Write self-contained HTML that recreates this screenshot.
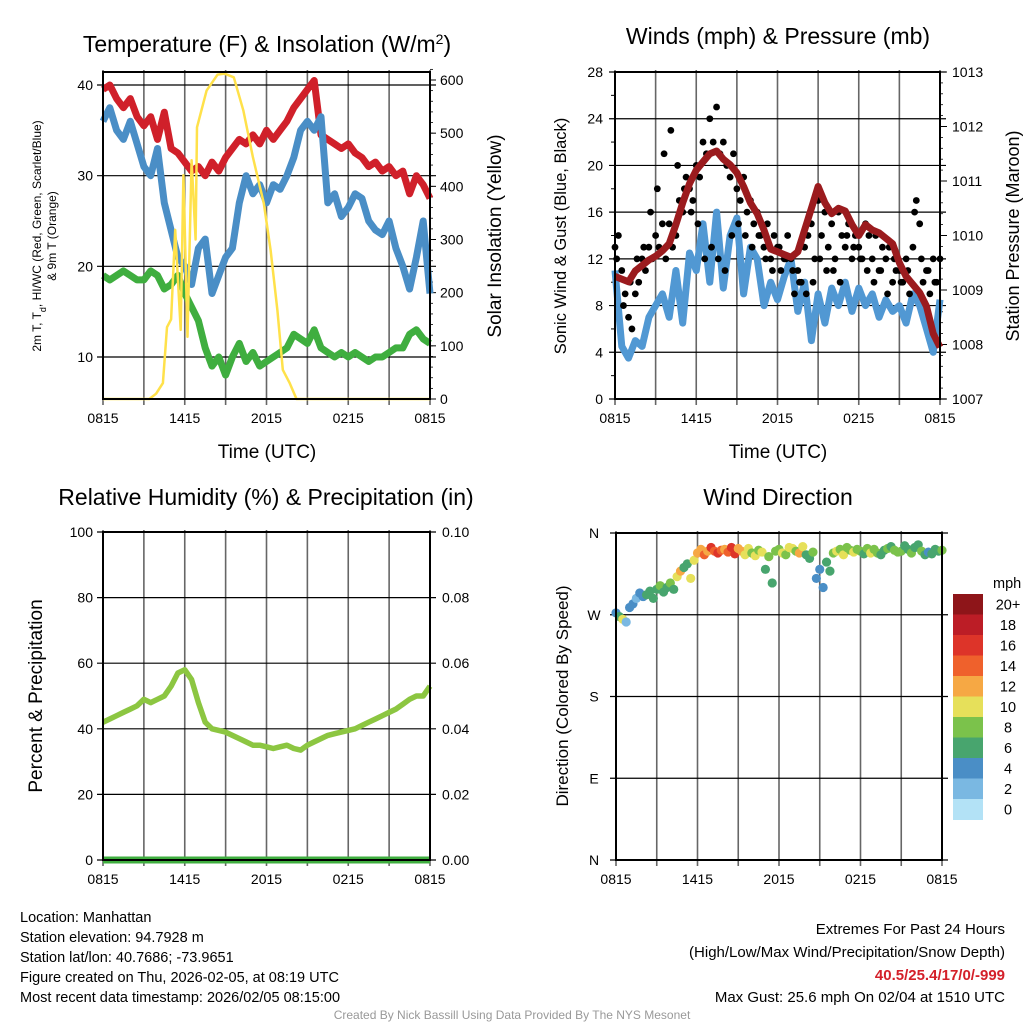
<!DOCTYPE html>
<html><head><meta charset="utf-8"><style>
html,body{margin:0;padding:0;background:#fff;}
svg{display:block;font-family:"Liberation Sans",Arial,sans-serif;}
</style></head><body>
<svg id="root" width="1024" height="1024" viewBox="0 0 1024 1024" xmlns="http://www.w3.org/2000/svg">
<text x="267" y="52" font-size="23" text-anchor="middle">Temperature (F) &amp; Insolation (W/m<tspan baseline-shift="super" font-size="14">2</tspan>)</text>
<text x="778" y="44" font-size="23" text-anchor="middle">Winds (mph) &amp; Pressure (mb)</text>
<text x="266" y="505" font-size="23" text-anchor="middle">Relative Humidity (%) &amp; Precipitation (in)</text>
<text x="778" y="505" font-size="23" text-anchor="middle">Wind Direction</text>
<text x="267" y="458" font-size="19" text-anchor="middle">Time (UTC)</text>
<text x="778" y="458" font-size="19" text-anchor="middle">Time (UTC)</text>
<text transform="translate(41,236) rotate(-90)" font-size="12" text-anchor="middle">2m T, T<tspan baseline-shift="sub" font-size="9">d</tspan>, HI/WC (Red, Green, Scarlet/Blue)</text>
<text transform="translate(56,236) rotate(-90)" font-size="12" text-anchor="middle">&amp; 9m T (Orange)</text>
<text transform="translate(501,236) rotate(-90)" font-size="19" text-anchor="middle">Solar Insolation (Yellow)</text>
<text transform="translate(566,236) rotate(-90)" font-size="16.5" text-anchor="middle">Sonic Wind &amp; Gust (Blue, Black)</text>
<text transform="translate(1019,236) rotate(-90)" font-size="18" text-anchor="middle">Station Pressure (Maroon)</text>
<text transform="translate(42,696) rotate(-90)" font-size="19" text-anchor="middle">Percent &amp; Precipitation</text>
<text transform="translate(568,696) rotate(-90)" font-size="17" text-anchor="middle">Direction (Colored By Speed)</text>
<g font-size="14.5">
<text x="20" y="922">Location: Manhattan</text>
<text x="20" y="942">Station elevation: 94.7928 m</text>
<text x="20" y="962">Station lat/lon: 40.7686; -73.9651</text>
<text x="20" y="982">Figure created on Thu, 2026-02-05, at 08:19 UTC</text>
<text x="20" y="1002">Most recent data timestamp: 2026/02/05 08:15:00</text>
</g>
<g font-size="15" text-anchor="end">
<text x="1005" y="934">Extremes For Past 24 Hours</text>
<text x="1005" y="957">(High/Low/Max Wind/Precipitation/Snow Depth)</text>
<text x="1005" y="980" fill="#d4202a" font-weight="bold">40.5/25.4/17/0/-999</text>
<text x="1005" y="1002">Max Gust: 25.6 mph On 02/04 at 1510 UTC</text>
</g>
<text x="512" y="1019" font-size="12" fill="#999" text-anchor="middle">Created By Nick Bassill Using Data Provided By The NYS Mesonet</text>
</svg>
<script>
const tempRed=[39.5,40,38.5,37.5,38.5,36.5,35.5,36.5,34,37,33,32.5,31.5,30.5,31,30,31.5,30.5,32,33,34,33.5,34.5,33.5,35,34,35,36,37.5,38.5,39.5,40.5,34.5,34,33.5,33,33.5,32.5,32,31,31.5,30.5,31,30,30.5,28,30,29,27.5];
const tempBlue=[36,37.5,35,34,36,33.5,31,30,33,27,24,21,20,18,22,23,17,19,21,22,27,30,28,29,27,29,28.5,30,32,35,36,35,36.5,27,28,25.5,26.5,28,27.5,25,24,23.5,25,22,20,17.5,21,25,17];
const tempGreen=[19,18.5,19,19.5,19,18.5,18.5,19.5,19,17.5,18,19,17,15.5,14,11,9,10,8,10,11.5,9.5,10.5,9,9.5,10,10.5,11,12.5,12,11.5,13,11,10.5,10,10.5,10,10.5,10,9.5,10,10,10.5,11,11,12.5,13,12,11.5];
const solarT=[0,3.4,3.9,4.4,4.7,5.0,5.3,5.7,5.9,6.2,6.5,6.8,6.9,7.6,8.4,8.9,9.6,10.3,11.0,11.8,12.3,12.8,13.2,13.7,14.2,24];
const solarV=[0,0,10,30,135,150,318,130,421,117,449,300,511,580,610,612,605,543,455,368,280,167,55,30,0,0];
const windV=[11,4.5,3.5,5,4.5,7,8,9,7,11,6.5,12.5,11,15,10,16,9.5,14,15.5,9,13,12,8,10,8.5,10.5,12,7.5,10,5,9,6.5,9.5,8,10,7.5,9.5,8,9,7,8.5,7.5,8,6.5,9,8,6,4,8.5];
const pressV=[1009.25,1009.2,1009.15,1009.35,1009.45,1009.55,1009.62,1009.72,1009.85,1010.2,1010.6,1010.95,1011.2,1011.35,1011.5,1011.55,1011.4,1011.3,1011.15,1010.9,1010.6,1010.4,1010.1,1009.75,1009.7,1009.65,1009.6,1009.7,1010.1,1010.5,1010.9,1010.6,1010.4,1010.5,1010.45,1010.2,1010.0,1010.2,1010.1,1010.05,1009.95,1009.85,1009.5,1009.25,1009.1,1008.95,1008.7,1008.2,1007.95];
const gustV=[13,14,11,9,7,6,9,10,12,11,13,12,14,13,15,12,15,13,14,17,16,19,18,17,20,19,22,21,24,22,25,21,22,20,19,21,18,17,19,16,17,15,16,14,13,15,12,14,13,11,12,14,12,9,11,10,13,14,15,12,17,14,16,13,15,12,16,14,13,15,12,14,13,12,15,14,12,14,11,13,12,13,10,11,11,10,12,9,13,17,15,10,11,9,12,10,12];
const gustV2=[12,8,10,12,13,16,18,21,23,20,18,16,15,12,13,12,11,14,15,14,13,14,12,11,13,12,11,10,9,10,12,11,11,10,14,13,12,11,10,11,9,12,10,11,16,12,11,10];
const rhV=[42,43,44,45,46,47,49,48,49,50,53,57,58,55,48,42,40,39.5,39,38,37,36,35,35,34.5,34,34.5,35,34,33.5,35,36,37,38,38.5,39,39.5,40,41,42,43,44,45,46,47.5,49,50,50,53];
const dirV=[272,268,265,262,278,282,288,294,290,292,296,288,298,302,295,300,305,298,312,318,322,326,310,330,338,342,336,340,344,340,338,341,342,339,344,337,343,340,336,343,338,335,341,339,320,334,305,340,342,338,336,344,343,340,338,345,336,332,339,310,320,300,328,318,338,340,342,336,344,341,339,342,340,337,343,338,342,338,336,341,343,345,341,339,340,346,342,338,344,347,340,336,339,337,342,340,341];
const dirS=[5,7,10,3,4,5,3,4,5,6,7,6,7,8,6,7,8,6,10,13,6,7,10,11,13,12,14,13,16,15,17,14,13,14,17,16,13,12,10,11,9,10,8,11,7,9,6,9,8,10,9,10,11,9,12,10,7,6,8,4,5,4,7,6,9,10,8,11,9,8,10,9,8,7,9,10,9,8,6,7,8,7,9,8,8,7,6,9,6,7,8,6,5,7,6,7,8];
const timeTicks=["0815","1415","2015","0215","0815"];
const tempTicks=[10,20,30,40];
const solarTicks=[0,100,200,300,400,500,600];
const windTicks=[0,4,8,12,16,20,24,28];
const pressTicks=[1007,1008,1009,1010,1011,1012,1013];
const rhTicks=[0,20,40,60,80,100];
const precipTicks=["0.00","0.02","0.04","0.06","0.08","0.10"];
const dirTicks=["N","E","S","W","N"];
const speedLabels=["0","2","4","6","8","10","12","14","16","18","20+"];
const speedColors=["#b3e2f6","#7ab8e2","#4a8ec6","#48a56e","#7bc24b","#e6e05a","#f6a844","#ef612c","#dd3429","#bc1d26","#8e1519"];

const NS="http://www.w3.org/2000/svg";
const root=document.getElementById('root');
function mk(tag,attrs,parent){const e=document.createElementNS(NS,tag);for(const k in attrs)e.setAttribute(k,attrs[k]);(parent||root).appendChild(e);return e;}
function lin(d0,d1,r0,r1){return v=>r0+(v-d0)/(d1-d0)*(r1-r0);}

function panel(name,x0,x1,y0,y1){
  const g=mk('g',{});
  
  
  const xs=lin(0,24,x0,x1);
  for(let h=0;h<=24;h+=3){const l=mk('line',{x1:xs(h),x2:xs(h),y1:y0-2,y2:y1+6,stroke:'#666','stroke-width':1.6},g);
    
    }
  timeTicks.forEach((lab,i)=>{const t=mk('text',{x:xs(i*6),y:y1+24,'font-size':14,'text-anchor':'middle'},g);t.textContent=lab;
    
    });
  return {g,xs};
}
function hgrid(g,x0,x1,y){const l=mk('line',{x1:x0-6,x2:x1+6,y1:y,y2:y,stroke:'#000','stroke-width':1.2},g);
  
  }
function label(g,x,y,txt,anchor,size){const t=mk('text',{x:x,y:y+5,'font-size':size||14,'text-anchor':anchor},g);t.textContent=txt;
  
  return t;}
function pathFrom(xsArr,ysArr){return xsArr.map((x,i)=>(i?'L':'M')+x.toFixed(1)+','+ysArr[i].toFixed(1)).join('');}
function frame(g,x0,x1,y0,y1){const r=mk('rect',{x:x0,y:y0,width:x1-x0,height:y1-y0,fill:'none',stroke:'#000','stroke-width':2},g);
  
  }

// Panel 1
{const X0=103,X1=430,Y0=72,Y1=399;const p=panel('temperature-panel',X0,X1,Y0,Y1);const g=p.g,xs=p.xs;
 const ty=lin(10,40,357,85);const sy=lin(0,600,399,80);
 tempTicks.forEach(v=>{hgrid(g,X0,X1,ty(v));label(g,X0-10,ty(v),String(v),'end');});
 solarTicks.forEach(v=>{label(g,X1+10,sy(v),String(v),'start');mk('line',{x1:X1,x2:X1+6,y1:sy(v),y2:sy(v),stroke:'#000'},g);});
 for(let v=0;v<=620;v+=20){mk('line',{x1:X1,x2:X1+3,y1:sy(v),y2:sy(v),stroke:'#000','stroke-width':0.8},g);}
 const tt=tempRed.map((_,i)=>xs(i*0.5));
 const s1=mk('path',{d:pathFrom(tt,tempGreen.map(ty)),fill:'none',stroke:'#3fae3f','stroke-width':7,'stroke-linejoin':'round'},g);
 
 
 const s2=mk('path',{d:pathFrom(tt,tempRed.map(ty)),fill:'none',stroke:'#d0202a','stroke-width':7,'stroke-linejoin':'round'},g);
 
 
 const s3=mk('path',{d:pathFrom(tt,tempBlue.map(ty)),fill:'none',stroke:'#4a8ec6','stroke-width':7,'stroke-linejoin':'round'},g);
 
 
 const s4=mk('path',{d:pathFrom(solarT.map(xs),solarV.map(sy)),fill:'none',stroke:'#ffe14a','stroke-width':2.5,'stroke-linejoin':'round'},g);
 
 
 frame(g,X0,X1,Y0,Y1);}

// Panel 2
{const X0=615,X1=940,Y0=72,Y1=399;const p=panel('wind-panel',X0,X1,Y0,Y1);const g=p.g,xs=p.xs;
 const wy=lin(0,28,399,72);const py=lin(1007,1013,399,72);
 windTicks.forEach(v=>{hgrid(g,X0,X1,wy(v));label(g,X0-12,wy(v),String(v),'end');});
 for(let v=2;v<28;v+=4){mk('line',{x1:X0-4,x2:X0,y1:wy(v),y2:wy(v),stroke:'#000'},g);}
 pressTicks.forEach(v=>{label(g,X1+12,py(v),String(v),'start');mk('line',{x1:X1,x2:X1+7,y1:py(v),y2:py(v),stroke:'#000'},g);});
 for(let v=1007;v<=1013.01;v+=0.2){mk('line',{x1:X1,x2:X1+3,y1:py(v),y2:py(v),stroke:'#000','stroke-width':0.8},g);}
 const ws=mk('path',{d:pathFrom(windV.map((_,i)=>xs(i*0.5)),windV.map(wy)),fill:'none',stroke:'#5198d3','stroke-width':7,'stroke-linejoin':'round'},g);
 
 
 gustV.forEach((v,i)=>{const c=mk('circle',{cx:xs(i*0.25),cy:wy(v),r:3.4,fill:'#000'},g);
   
   });
 gustV2.forEach((v,i)=>{const c=mk('circle',{cx:xs(0.125+i*0.5),cy:wy(v),r:3.4,fill:'#000'},g);
   
   });
 const pl=mk('path',{d:pathFrom(pressV.map((_,i)=>xs(i*0.5)),pressV.map(py)),fill:'none',stroke:'#9b1b1e','stroke-width':7,'stroke-linejoin':'round'},g);
 
 
 frame(g,X0,X1,Y0,Y1);}

// Panel 3
{const X0=103,X1=430,Y0=532,Y1=860;const p=panel('humidity-panel',X0,X1,Y0,Y1);const g=p.g,xs=p.xs;
 const ry=lin(0,100,860,532);
 rhTicks.forEach((v,i)=>{hgrid(g,X0,X1,ry(v));label(g,X0-10,ry(v),String(v),'end');label(g,X1+12,ry(v),precipTicks[i],'start');});
 const rl=mk('path',{d:pathFrom(rhV.map((_,i)=>xs(i*0.5)),rhV.map(ry)),fill:'none',stroke:'#8cc641','stroke-width':5.5,'stroke-linejoin':'round'},g);
 
 
 const pr=mk('line',{x1:X0,x2:X1,y1:ry(0),y2:ry(0),stroke:'#3fae3f','stroke-width':7},g);
 
 
 frame(g,X0,X1,Y0,Y1);}

// Panel 4
{const X0=616,X1=942,Y0=533,Y1=860;const p=panel('direction-panel',X0,X1,Y0,Y1);const g=p.g,xs=p.xs;
 const dy=lin(0,360,860,533);
 dirTicks.forEach((lab,i)=>{hgrid(g,X0,X1,dy(i*90));label(g,X0-22,dy(i*90),lab,'middle');});
 dirV.forEach((v,i)=>{const s=dirS[i];const k=Math.min(10,Math.floor(s/2));
   const c=mk('circle',{cx:xs(i*0.25),cy:dy(v),r:4.6,fill:speedColors[k]},g);
   
   });
 const cb=mk('g',{},root);
 
 
 const mt=mk('text',{x:993,y:588,'font-size':14.5},cb);mt.textContent='mph';
 const bh=20.5,top=594;
 speedColors.slice().reverse().forEach((col,i)=>{const r=mk('rect',{x:953,y:top+i*bh,width:30,height:bh+0.5,fill:col},cb);
   
   });
 speedLabels.slice().reverse().forEach((lab,i)=>{const t=mk('text',{x:1008,y:top+i*bh+bh/2+5,'font-size':14.5,'text-anchor':'middle'},cb);t.textContent=lab;
   
   });
 frame(g,X0,X1,Y0,Y1);}
</script>
</body></html>
